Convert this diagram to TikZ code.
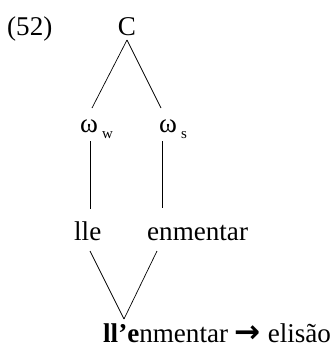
\documentclass[tikz,border=0pt]{standalone}
\usepackage{fontspec}
\setmainfont{Liberation Serif}
\newfontfamily\arrowfont{DejaVu Sans}
\begin{document}
\begin{tikzpicture}[x=1bp,y=-1bp,
  txt/.style={inner sep=0pt, font=\fontsize{27.2}{30}\selectfont},
  edge/.style={line width=0.7bp}]
\useasboundingbox (0,0) rectangle (335,347);
\newcommand\subsc[1]{\hspace{4bp}\raisebox{-6bp}{\fontsize{15}{16}\selectfont #1}}
\node[txt,anchor=base west] (num) at (7,35) {(52)};
\node[txt,anchor=base] (C) at (127,35) {C};
\node[txt,anchor=base west] (ww) at (80,132) {ω\subsc{w}};
\node[txt,anchor=base west] (ws) at (159,132) {ω\subsc{s}};
\node[txt,anchor=base west] (lle) at (74,240) {lle};
\node[txt,anchor=base west] (enm) at (147,240) {enmentar};
\node[txt,anchor=base west,text depth=0pt] (res) at (103,342) {\textbf{ll’e}nmentar {\arrowfont\bfseries\scalebox{1.15}{→}} elisão};
\coordinate (Cb) at (127,40);
\coordinate (wwt) at (92,108);
\coordinate (wst) at (161,108);
\coordinate (wwb) at (90,141);
\coordinate (wsb) at (162,141);
\coordinate (llet) at (90,209);
\coordinate (enmt) at (162,208);
\coordinate (lleb) at (90,251);
\coordinate (enmb) at (157,251);
\coordinate (rest) at (124,319);
\draw[edge] (Cb) -- (wwt);
\draw[edge] (Cb) -- (wst);
\draw[edge] (wwb) -- (llet);
\draw[edge] (wsb) -- (enmt);
\draw[edge] (lleb) -- (rest);
\draw[edge] (enmb) -- (rest);
\end{tikzpicture}
\end{document}
